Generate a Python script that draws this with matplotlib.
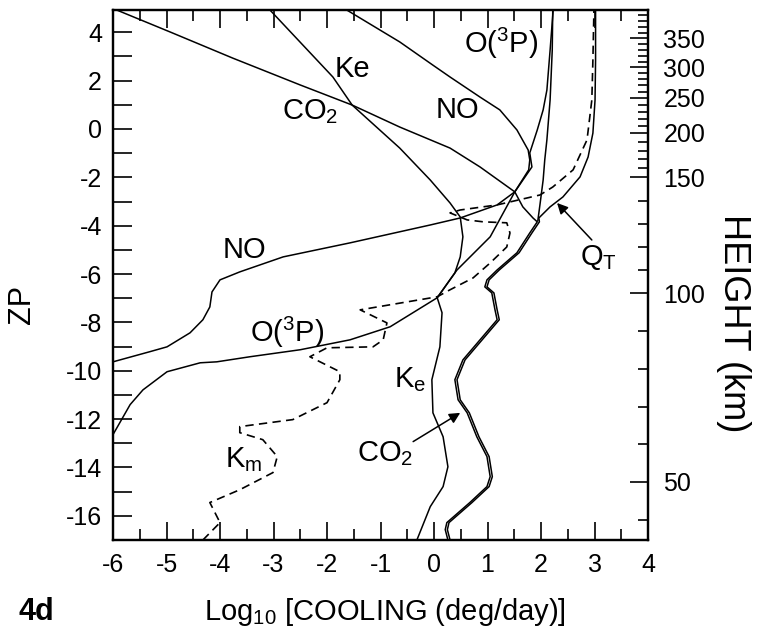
import numpy as np
import matplotlib.pyplot as plt
from matplotlib.ticker import MultipleLocator, FixedLocator, NullFormatter

plt.rcParams['font.family'] = ['Liberation Sans', 'DejaVu Sans']
plt.rcParams['mathtext.fontset'] = 'custom'
plt.rcParams['mathtext.rm'] = 'Liberation Sans'
plt.rcParams['mathtext.it'] = 'Liberation Sans:italic'
plt.rcParams['mathtext.bf'] = 'Liberation Sans:bold'
plt.rcParams['axes.unicode_minus'] = False

# log10 cooling rate (deg/day) against pressure level ZP
co2_top_zp = [5.0, 4.92, 4.01, 2.93, 1.82, 0.99, 0.08, -0.79, -1.57, -2.60, -3.22, -3.68]
co2_top_val = [-6.0, -5.93, -4.93, -3.76, -2.50, -1.53, -0.64, 0.30, 0.86, 1.51, 1.66, 1.85]

# lower branch shared by CO2 and the total (drawn as a double line)
low_zp = [-3.84, -4.30, -5.12, -5.83, -6.24, -6.53, -6.78, -7.48, -7.89, -8.72, -9.55,
          -10.37, -11.20, -11.74, -12.73, -13.55, -14.38, -14.79, -15.45, -16.28, -16.57, -17.0]
low_val = [1.93, 1.79, 1.55, 1.18, 0.99, 0.95, 1.08, 1.14, 1.18, 0.86, 0.54,
           0.39, 0.45, 0.62, 0.80, 0.99, 1.05, 0.99, 0.67, 0.24, 0.21, 0.26]

qt_top_zp = [5.0, 2.85, 1.20, -0.17, -1.16, -1.98, -2.81, -3.22, -3.68]
qt_top_val = [3.02, 3.02, 3.01, 2.97, 2.88, 2.73, 2.41, 2.17, 1.96]

rad_zp = [5.0, 3.26, 1.20, -0.45, -1.28, -2.11, -3.14, -3.80]
rad_val = [2.22, 2.21, 2.17, 2.11, 2.07, 2.04, 1.98, 1.94]

no_zp = [5.05, 4.92, 3.60, 2.64, 2.15, 1.32, 0.79, -0.04, -0.87, -1.28, -1.69, -2.60,
         -3.14, -3.68, -3.97, -4.71, -5.29, -5.91, -6.24, -6.74, -7.36, -7.89, -8.43,
         -9.01, -9.21, -9.63]
no_val = [-1.70, -1.63, -0.64, -0.02, 0.30, 0.86, 1.23, 1.55, 1.76, 1.79, 1.77, 1.51,
          1.18, 0.49, -0.07, -1.57, -2.82, -3.63, -4.00, -4.15, -4.19, -4.32, -4.56,
          -4.99, -5.31, -6.0]

o3p_zp = [5.0, 3.26, 1.61, 0.79, -0.04, -0.99, -1.57, -2.60, -4.46, -5.83, -6.98,
          -8.18, -8.72, -9.13, -9.42, -9.63, -9.67, -10.04, -10.79, -11.40, -12.64]
o3p_val = [2.23, 2.17, 2.11, 2.04, 1.93, 1.79, 1.83, 1.51, 1.05, 0.43, 0.06,
           -0.82, -1.57, -2.50, -3.44, -4.06, -4.37, -4.99, -5.44, -5.68, -6.0]

ke_zp = [5.0, 2.15, 0.99, -0.79, -2.11, -3.06, -3.64, -4.46, -5.29, -5.95, -6.98, -7.60,
         -9.01, -10.37, -11.74, -12.73, -13.97, -14.79, -15.62, -17.0]
ke_val = [-3.10, -1.89, -1.53, -0.64, -0.07, 0.30, 0.49, 0.54, 0.49, 0.39, 0.06, 0.15,
          0.11, -0.04, -0.02, 0.17, 0.26, 0.17, -0.07, -0.32]

km_zp = [-17.0, -16.28, -15.45, -14.92, -14.21, -13.55, -12.85, -12.56, -12.31, -12.02,
         -11.32, -10.37, -10.04, -9.42, -9.05, -9.01, -8.72, -8.02, -7.48, -6.94, -6.65,
         -6.16, -5.54, -4.88, -4.30, -3.88, -3.84, -3.76, -3.47, -3.35, -3.14, -2.73,
         -2.40, -1.69, -0.45, 1.20, 2.85, 5.0]
km_val = [-4.32, -4.00, -4.19, -3.63, -3.01, -2.93, -3.20, -3.63, -3.63, -2.64,
          -2.00, -1.76, -1.76, -2.32, -2.00, -1.14, -0.95, -0.88, -1.38, 0.06, 0.30,
          0.73, 1.05, 1.36, 1.42, 1.36, 0.92, 0.62, 0.30, 0.49, 1.18, 1.98,
          2.22, 2.60, 2.86, 2.95, 2.97, 2.99]

# height scale on the right
height_km = [50, 100, 150, 200, 250, 300, 350]
height_zp = [-14.6, -6.8, -2.0, -0.15, 1.3, 2.55, 3.75]


def km_to_zp(h):
    h = np.asarray(h, dtype=float)
    z = np.interp(h, height_km, height_zp)
    lo = h < height_km[0]
    hi = h > height_km[-1]
    s_lo = (height_zp[1] - height_zp[0]) / (height_km[1] - height_km[0])
    s_hi = (height_zp[-1] - height_zp[-2]) / (height_km[-1] - height_km[-2])
    z[lo] = height_zp[0] + s_lo * (h[lo] - height_km[0])
    z[hi] = height_zp[-1] + s_hi * (h[hi] - height_km[-1])
    return z


co2_val = co2_top_val + low_val
co2_zp = co2_top_zp + low_zp
qt_val = qt_top_val + [v + 0.04 for v in low_val]
qt_zp = qt_top_zp + low_zp

fig = plt.figure(figsize=(7.62, 6.39), dpi=100)
ax = fig.add_axes([0.1483, 0.1549, 0.7021, 0.8294])

lw = 1.1
kw = dict(color='black', lw=lw, solid_joinstyle='round', solid_capstyle='round')
ax.plot(co2_val, co2_zp, **kw)
ax.plot(qt_val, qt_zp, **kw)
ax.plot(rad_val, rad_zp, **kw)
ax.plot(no_val, no_zp, **kw)
ax.plot(o3p_val, o3p_zp, **kw)
ax.plot(ke_val, ke_zp, **kw)
ax.plot(km_val, km_zp, color='black', lw=1.2, ls=(0, (5, 3.2)))

ax.set_xlim(-6, 4)
ax.set_ylim(-17.0, 4.92)

ax.xaxis.set_major_locator(MultipleLocator(1))
ax.xaxis.set_minor_locator(MultipleLocator(0.5))
ax.yaxis.set_major_locator(MultipleLocator(2))
ax.yaxis.set_minor_locator(MultipleLocator(1))
ax.tick_params(axis='x', which='both', direction='in', top=True, bottom=True,
               labelsize=18, pad=9, width=1.2)
ax.tick_params(axis='x', which='major', length=13)
ax.tick_params(axis='x', which='minor', length=8)
ax.tick_params(axis='y', which='both', direction='in', left=True, right=False,
               labelsize=18, pad=8, width=1.2, length=13.5)
for sp in ax.spines.values():
    sp.set_linewidth(1.6)

ax2 = ax.twinx()
ax2.set_ylim(ax.get_ylim())
ax2.yaxis.set_major_locator(FixedLocator(km_to_zp(height_km)))
ax2.yaxis.set_major_formatter(plt.FixedFormatter([str(h) for h in height_km]))
minor_km = [h for h in range(40, 400, 10) if h % 50]
ax2.yaxis.set_minor_locator(FixedLocator(km_to_zp(minor_km)))
ax2.yaxis.set_minor_formatter(NullFormatter())
ax2.tick_params(axis='y', which='both', direction='in', labelsize=18, pad=11, width=1.2)
ax2.tick_params(axis='y', which='major', length=13)
ax2.tick_params(axis='y', which='minor', length=7)
for sp in ax2.spines.values():
    sp.set_linewidth(1.6)

# curve labels
lab = dict(fontsize=21, ha='center', va='baseline')
ax.text(-1.53, 2.15, 'Ke', **lab)
ax.text(-2.32, 0.41, r'CO$_\mathregular{2}$', **lab)
ax.text(0.43, 0.45, 'NO', **lab)
ax.text(1.25, 3.14, r'O($^\mathregular{3}$P)', **lab)
ax.text(-3.55, -5.33, 'NO', **lab)
ax.text(-2.75, -8.80, r'O($^\mathregular{3}$P)', **lab)
ax.text(-0.45, -10.66, r'K$_\mathregular{e}$', **lab)
ax.text(-3.55, -14.0, r'K$_\mathregular{m}$', **lab)
ax.text(-0.92, -13.76, r'CO$_\mathregular{2}$', **lab)
ax.text(3.07, -5.62, r'Q$_\mathregular{T}$', **lab)

arrow = dict(arrowstyle='-|>', color='black', lw=1.1, mutation_scale=16,
             shrinkA=0, shrinkB=0)
ax.annotate('', xy=(0.49, -11.74), xytext=(-0.39, -12.93), arrowprops=arrow)
ax.annotate('', xy=(2.30, -3.06), xytext=(2.95, -4.59), arrowprops=arrow)

fig.text(0.029, 0.523, 'ZP', rotation=90, fontsize=22, ha='center', va='center')
fig.text(0.963, 0.495, 'HEIGHT (km)', rotation=270, fontsize=26, ha='center', va='center')
fig.text(0.505, 0.042, r'Log$_\mathregular{10}$ [COOLING (deg/day)]', fontsize=21,
         ha='center', va='center')
fig.text(0.048, 0.042, '4d', fontsize=22, fontweight='bold', ha='center', va='center')

fig.savefig('out.png', dpi=100)
